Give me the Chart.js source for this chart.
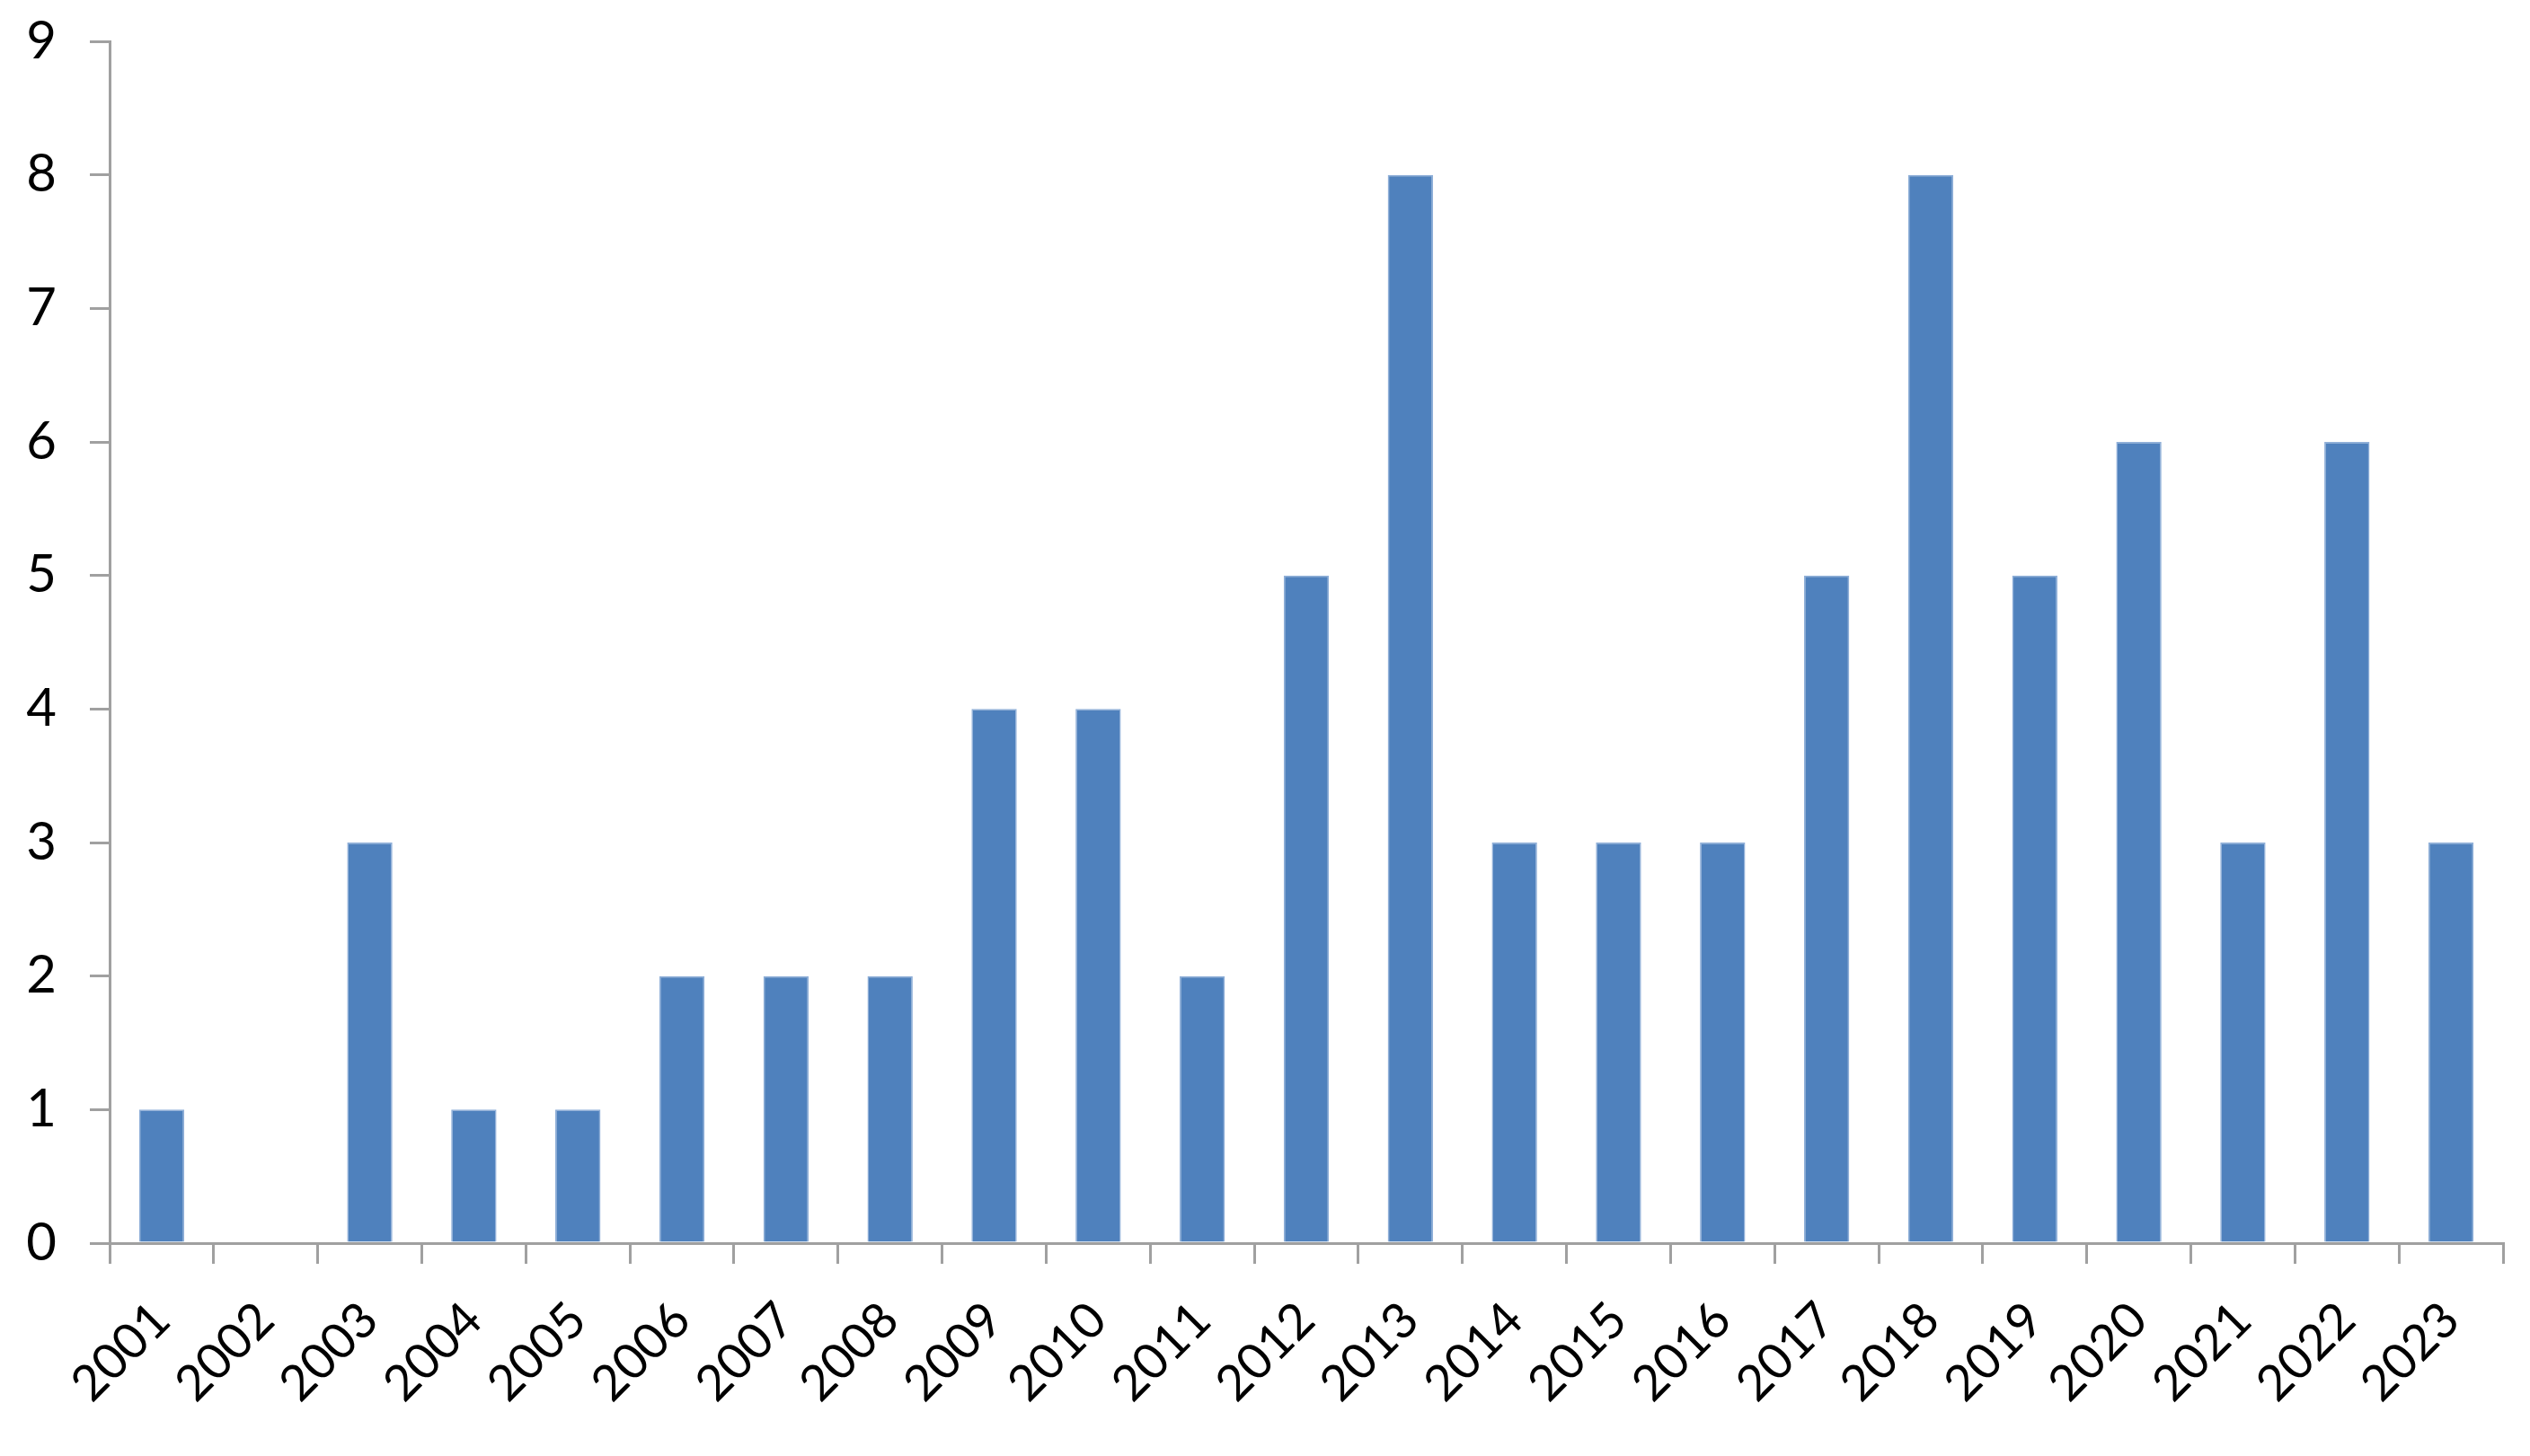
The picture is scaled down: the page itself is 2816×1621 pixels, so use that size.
<!DOCTYPE html>
<html>
<head>
<meta charset="utf-8">
<style>
  html, body { margin: 0; padding: 0; background: #ffffff; }
  #wrap { width: 2816px; height: 1621px; position: relative; }
</style>
<script src="https://cdn.jsdelivr.net/npm/chart.js@4/dist/chart.umd.min.js"></script>
</head>
<body>
<div id="wrap"><canvas id="c" width="2816" height="1621"></canvas></div>
<script>
const years = ['2001','2002','2003','2004','2005','2006','2007','2008','2009','2010','2011','2012','2013','2014','2015','2016','2017','2018','2019','2020','2021','2022','2023'];
const counts = [1,0,3,1,1,2,2,2,4,4,2,5,8,3,3,3,5,8,5,6,3,6,3];
const yTicks = [0,1,2,3,4,5,6,7,8,9];

const axisColor = '#a0a0a0';
const fontFamily = 'Lato, "Noto Sans", sans-serif';

new Chart(document.getElementById('c'), {
  type: 'bar',
  data: {
    labels: years,
    datasets: [{
      data: counts,
      backgroundColor: '#4F81BD',
      borderColor: '#8FAFD8',
      borderWidth: 1.5,
      categoryPercentage: 1,
      barPercentage: 0.435
    }]
  },
  options: {
    responsive: false,
    animation: false,
    devicePixelRatio: 1,
    layout: { padding: { top: 46, right: 30, left: 0, bottom: 0 } },
    plugins: { legend: { display: false }, tooltip: { enabled: false } },
    scales: {
      x: {
        grid: { drawOnChartArea: false, drawTicks: true, tickLength: 23, color: axisColor, lineWidth: 3, offset: true },
        border: { display: true, color: axisColor, width: 3 },
        ticks: { color: '#000', font: { family: fontFamily, size: 55 }, minRotation: 45, maxRotation: 45, padding: 30, autoSkip: false },
        afterFit: (s) => { s.height = 237; }
      },
      y: {
        min: 0, max: 9,
        afterBuildTicks: (s) => { s.ticks = yTicks.map(v => ({ value: v })); },
        grid: { drawOnChartArea: false, drawTicks: true, tickLength: 22, color: axisColor, lineWidth: 3 },
        border: { display: true, color: axisColor, width: 3 },
        ticks: { color: '#000', font: { family: fontFamily, size: 58 }, padding: 37 },
        afterFit: (s) => { s.width = 122; s.paddingTop = 0; s.paddingBottom = 0; }
      }
    }
  }
});
</script>
</body>
</html>
